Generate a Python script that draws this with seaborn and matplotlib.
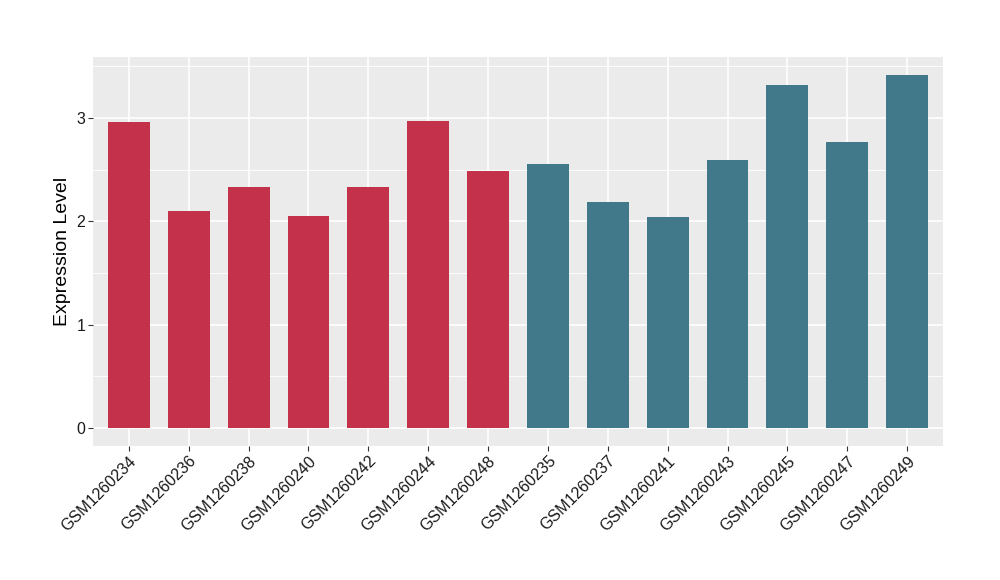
import pandas as pd
import numpy as np
import matplotlib
matplotlib.use("Agg")
import matplotlib.pyplot as plt
import seaborn as sns

# sample names (group 1 first, then group 2)
samples = ["GSM1260234", "GSM1260236", "GSM1260238", "GSM1260240", "GSM1260242",
           "GSM1260244", "GSM1260248", "GSM1260235", "GSM1260237", "GSM1260241",
           "GSM1260243", "GSM1260245", "GSM1260247", "GSM1260249"]
expression = [2.96, 2.10, 2.33, 2.05, 2.33, 2.97, 2.49,
              2.56, 2.19, 2.04, 2.59, 3.32, 2.77, 3.42]
groups = ["A"] * 7 + ["B"] * 7
group_colors = {"A": "#C3314A", "B": "#42798A"}

df = pd.DataFrame({"sample": samples, "expr": expression, "group": groups})

sns.set_style("darkgrid", {"axes.facecolor": "#EBEBEB", "grid.color": "white"})
plt.rcParams["font.family"] = ["Liberation Sans", "DejaVu Sans"]

fig = plt.figure(figsize=(10, 5.8), dpi=100)
ax = fig.add_axes([0.093, 0.2316, 0.85, 0.6701])

sns.barplot(data=df, x="sample", y="expr", hue="group", palette=group_colors,
            order=samples, width=0.7, dodge=False, legend=False, ax=ax,
            saturation=1, linewidth=0, edgecolor="none")

ymax = max(expression)
ax.set_xlim(-0.6, len(samples) - 0.4)
ax.set_ylim(-0.05 * ymax, ymax * 1.05)
ax.set_yticks([0, 1, 2, 3])
ax.set_yticks([0.5, 1.5, 2.5, 3.5], minor=True)
ax.grid(which="major", color="white", linewidth=1.2)
ax.grid(which="minor", axis="y", color="white", linewidth=0.6)
ax.set_axisbelow(True)
for s in ax.spines.values():
    s.set_visible(False)

ax.tick_params(axis="both", which="major", length=3.5, width=0.8, color="#333333",
               labelsize=11.5, labelcolor="#1a1a1a", pad=2, bottom=True, left=True)
ax.tick_params(axis="both", which="minor", length=0)
plt.setp(ax.get_xticklabels(), rotation=45, ha="right", rotation_mode="anchor")

ax.set_xlabel("")
ax.set_ylabel("Expression Level", fontsize=14, color="black")

fig.savefig("out.png", dpi=100)
